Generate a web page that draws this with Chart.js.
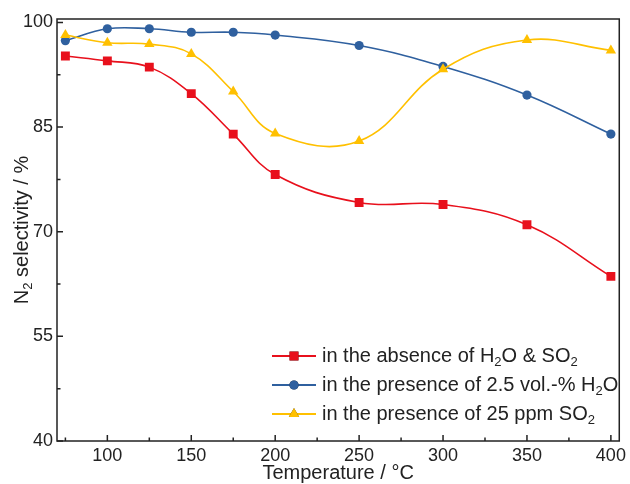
<!DOCTYPE html>
<html>
<head>
<meta charset="utf-8">
<script src="https://cdn.jsdelivr.net/npm/chart.js@4.4.1/dist/chart.umd.min.js"></script>
<style>
  html, body { margin: 0; padding: 0; background: #fff; }
  #wrap { width: 630px; height: 484px; }
</style>
</head>
<body>
<div id="wrap"><canvas id="selChart" width="630" height="484"></canvas></div>
<script>
// Nhiệt độ phản ứng (°C)
const temperatures = [75, 100, 125, 150, 175, 200, 250, 300, 350, 400];

// Độ chọn lọc N2 (%) cho từng điều kiện
const selAbsence = [95.2, 94.5, 93.6, 89.8, 84.0, 78.2, 74.2, 73.9, 71.0, 63.6];
const selWater   = [97.4, 99.1, 99.1, 98.6, 98.6, 98.2, 96.7, 93.7, 89.6, 84.0];
const selSO2     = [98.2, 97.1, 96.9, 95.5, 90.1, 84.1, 83.0, 93.3, 97.5, 96.0];

// Nhãn chú thích, "_2" là chỉ số dưới
const seriesLabels = [
    'in the absence of H_2O & SO_2',
    'in the presence of 2.5 vol.-% H_2O',
    'in the presence of 25 ppm SO_2'
];

const xTicks = [100, 150, 200, 250, 300, 350, 400];
const xMinorTicks = [75, 125, 175, 225, 275, 325, 375];
const yTicks = [40, 55, 70, 85, 100];
const yMinorTicks = [47.5, 62.5, 77.5, 92.5];

const FONT = '"Liberation Sans", Arial, sans-serif';
const INK = '#222';

// Vẽ chuỗi có chỉ số dưới (H_2O -> H₂O)
function drawRich(ctx, text, x, y, size, align) {
    const parts = text.split(/_(\d)/);
    const subSize = Math.round(size * 0.65);
    let total = 0;
    parts.forEach((p, i) => {
        ctx.font = (i % 2 ? subSize : size) + 'px ' + FONT;
        total += ctx.measureText(p).width;
    });
    let cx = align === 'center' ? x - total / 2 : x;
    ctx.textAlign = 'left';
    ctx.textBaseline = 'middle';
    parts.forEach((p, i) => {
        const sub = i % 2 === 1;
        ctx.font = (sub ? subSize : size) + 'px ' + FONT;
        ctx.fillText(p, cx, sub ? y + size * 0.32 : y);
        cx += ctx.measureText(p).width;
    });
}

// Khung, vạch chia hướng vào trong, tiêu đề trục và chú thích
const framePlugin = {
    id: 'framePlugin',
    afterDraw(chart) {
        const { ctx, chartArea: a, scales } = chart;
        const xs = scales.x, ys = scales.y;
        ctx.save();
        ctx.strokeStyle = INK;
        ctx.lineWidth = 1.5;
        ctx.strokeRect(a.left, a.top, a.right - a.left, a.bottom - a.top);

        ctx.beginPath();
        xTicks.forEach(v => {
            const px = xs.getPixelForValue(v);
            ctx.moveTo(px, a.bottom); ctx.lineTo(px, a.bottom - 6);
        });
        xMinorTicks.forEach(v => {
            const px = xs.getPixelForValue(v);
            ctx.moveTo(px, a.bottom); ctx.lineTo(px, a.bottom - 3.5);
        });
        yTicks.forEach(v => {
            const py = ys.getPixelForValue(v);
            ctx.moveTo(a.left, py); ctx.lineTo(a.left + 6, py);
        });
        yMinorTicks.forEach(v => {
            const py = ys.getPixelForValue(v);
            ctx.moveTo(a.left, py); ctx.lineTo(a.left + 3.5, py);
        });
        ctx.stroke();

        ctx.fillStyle = INK;
        drawRich(ctx, 'Temperature / °C', (a.left + a.right) / 2, 473, 20, 'center');
        ctx.save();
        ctx.translate(22, (a.top + a.bottom) / 2);
        ctx.rotate(-Math.PI / 2);
        drawRich(ctx, 'N_2 selectivity / %', 0, 0, 20, 'center');
        ctx.restore();

        // chú thích
        const lx0 = 272, lx1 = 316, tx = 322;
        const rows = [356, 385, 414];
        chart.data.datasets.forEach((ds, i) => {
            const y = rows[i];
            ctx.strokeStyle = ds.borderColor;
            ctx.lineWidth = 2;
            ctx.beginPath();
            ctx.moveTo(lx0, y); ctx.lineTo(lx1, y);
            ctx.stroke();
            Chart.helpers.drawPoint(ctx, {
                pointStyle: ds.pointStyle,
                radius: ds.pointRadius,
                borderWidth: 0
            }, (lx0 + lx1) / 2, y);
            ctx.fillStyle = ds.backgroundColor;
            ctx.fill();
            ctx.fillStyle = INK;
            drawRich(ctx, seriesLabels[i], tx, y, 20, 'left');
        });
        ctx.restore();
    }
};

const ctx = document.getElementById('selChart').getContext('2d');

new Chart(ctx, {
    type: 'line',
    data: {
        datasets: [
            {
                label: seriesLabels[0],
                data: temperatures.map((t, i) => ({ x: t, y: selAbsence[i] })),
                borderColor: '#e8101c',
                backgroundColor: '#e8101c',
                pointStyle: 'rect',
                pointRadius: 6.3,
                order: 3
            },
            {
                label: seriesLabels[1],
                data: temperatures.map((t, i) => ({ x: t, y: selWater[i] })),
                borderColor: '#2f609f',
                backgroundColor: '#2f609f',
                pointStyle: 'circle',
                pointRadius: 4.6,
                order: 2
            },
            {
                label: seriesLabels[2],
                data: temperatures.map((t, i) => ({ x: t, y: selSO2[i] })),
                borderColor: '#ffc000',
                backgroundColor: '#ffc000',
                pointStyle: 'triangle',
                pointRadius: 6,
                order: 1
            }
        ]
    },
    options: {
        responsive: false,
        animation: false,
        layout: { padding: { left: 0, right: 7, top: 19, bottom: 0 } },
        elements: {
            line: { borderWidth: 1.6, tension: 0.4 },
            point: { borderWidth: 0, hoverRadius: 6 }
        },
        plugins: {
            legend: { display: false },
            tooltip: { enabled: false }
        },
        scales: {
            x: {
                type: 'linear',
                min: 70,
                max: 405,
                afterBuildTicks: s => { s.ticks = xTicks.map(v => ({ value: v })); },
                afterFit: s => { s.height = 43; },
                grid: { display: false, drawTicks: false },
                border: { display: false },
                ticks: {
                    padding: 4,
                    color: INK,
                    font: { family: FONT, size: 18 },
                    maxRotation: 0
                }
            },
            y: {
                min: 40,
                max: 100.5,
                afterBuildTicks: s => { s.ticks = yTicks.map(v => ({ value: v })); },
                afterFit: s => { s.width = 57; },
                grid: { display: false, drawTicks: false },
                border: { display: false },
                ticks: {
                    padding: 4,
                    color: INK,
                    font: { family: FONT, size: 18 }
                }
            }
        }
    },
    plugins: [framePlugin]
});
</script>
</body>
</html>
